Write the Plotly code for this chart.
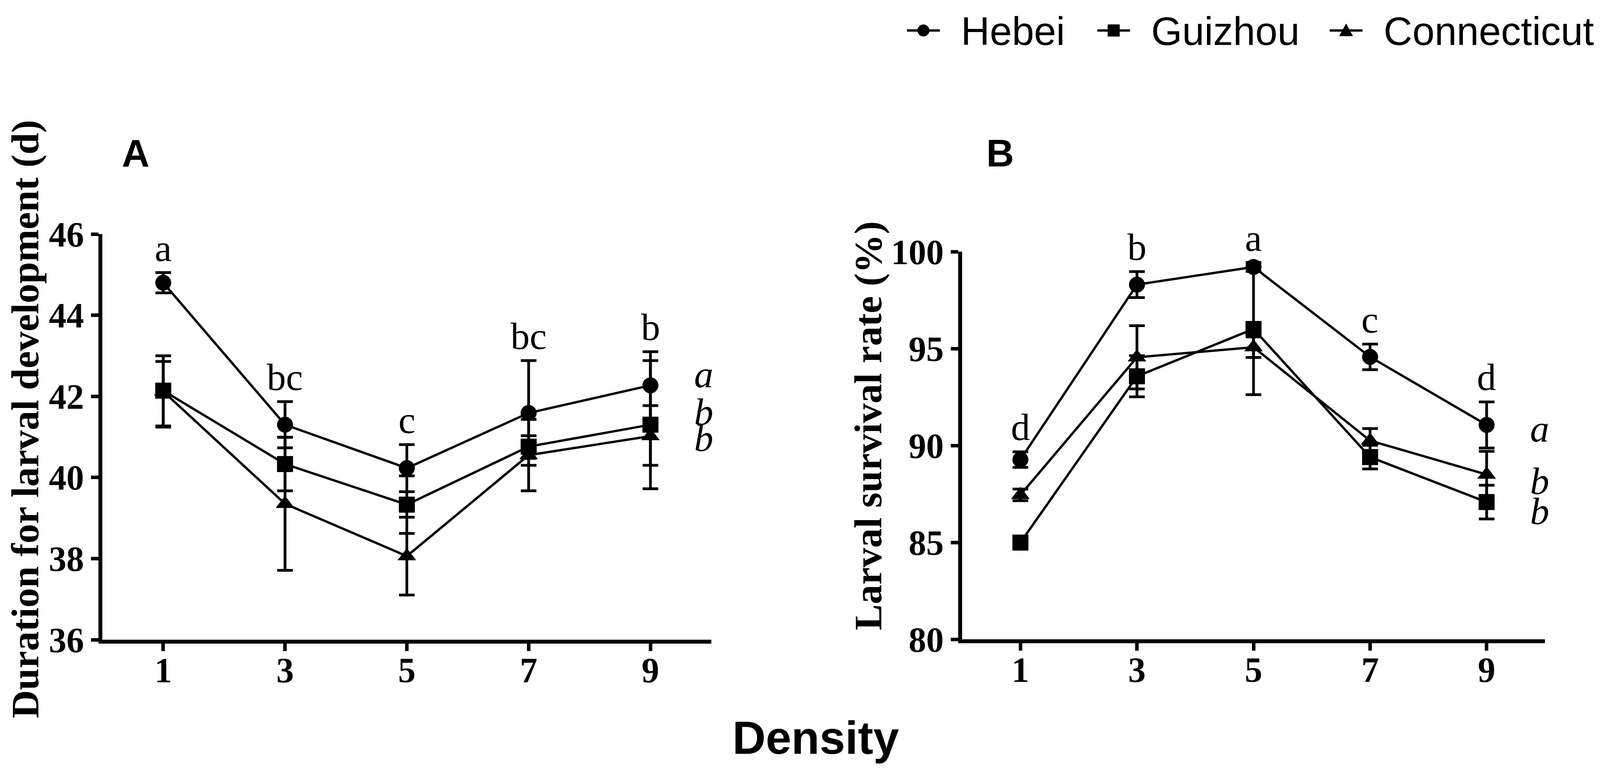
import plotly.graph_objects as go

# ---------------- data ----------------
density = [1, 3, 5, 7, 9]
populations = ["Hebei", "Guizhou", "Connecticut"]

# Panel A: duration for larval development (d)
dur_hebei = [44.80, 41.30, 40.23, 41.59, 42.27]
dur_hebei_up = [0.25, 0.57, 0.58, 1.29, 0.83]
dur_hebei_dn = [0.25, 0.57, 0.58, 1.29, 0.83]
dur_guizhou = [42.14, 40.33, 39.33, 40.76, 41.30]
dur_guizhou_up = [0.72, 0.66, 0.71, 0.27, 0.47]
dur_guizhou_dn = [0.87, 0.66, 0.71, 0.29, 1.00]
dur_conn = [42.12, 39.35, 38.06, 40.55, 41.02]
dur_conn_up = [0.88, 1.64, 0.96, 0.88, 1.86]
dur_conn_dn = [0.88, 1.64, 0.96, 0.88, 1.30]

# Panel B: larval survival rate (%)
surv_hebei = [89.27, 98.30, 99.21, 94.57, 91.06]
surv_hebei_err = [0.40, 0.67, 0.23, 0.66, 1.19]
surv_guizhou = [84.99, 93.57, 96.01, 89.40, 87.08]
surv_guizhou_err = [0.30, 1.06, 3.39, 0.61, 0.87]
surv_conn = [87.45, 94.55, 95.07, 90.25, 88.50]
surv_conn_err = [0.30, 1.63, 0.53, 0.62, 1.20]

# significance letters
density_letters_A = ["a", "bc", "c", "bc", "b"]
density_letters_B = ["d", "b", "a", "c", "d"]
pop_letters_A = ["a", "b", "b"]   # Hebei, Guizhou, Connecticut
pop_letters_B = ["a", "b", "b"]

yticks_A = [36, 38, 40, 42, 44, 46]
yticks_B = [80, 85, 90, 95, 100]

# ---------------- styling / layout ----------------
W, H = 4114, 1973
symbols = {"Hebei": "circle", "Guizhou": "square", "Connecticut": "triangle-up"}
msize = {"Hebei": 40, "Guizhou": 40, "Connecticut": 40}
SERIF = "Liberation Serif"
SANS = "Liberation Sans"

# label shifts (px) for the population letters at right
pop_shift_A = [28, 33, -5]
pop_shift_B = [-10, -23, -17]

# legend placement (pixels from left / top)
legend_line_px = [2322, 2809, 3404]
legend_line_len = 84
legend_text_gap = 52
legend_y_px = 78


def px(xp):
    return xp / W


def py(yp):
    return 1 - yp / H


fig = go.Figure()

panelA = [
    ("Hebei", dur_hebei, dur_hebei_up, dur_hebei_dn),
    ("Guizhou", dur_guizhou, dur_guizhou_up, dur_guizhou_dn),
    ("Connecticut", dur_conn, dur_conn_up, dur_conn_dn),
]
panelB = [
    ("Hebei", surv_hebei, surv_hebei_err, surv_hebei_err),
    ("Guizhou", surv_guizhou, surv_guizhou_err, surv_guizhou_err),
    ("Connecticut", surv_conn, surv_conn_err, surv_conn_err),
]

for ax, panel in (("1", panelA), ("2", panelB)):
    for name, y, up, dn in panel:
        fig.add_trace(go.Scatter(
            x=density, y=y, name=name, legendgroup=name, showlegend=False,
            mode="lines+markers",
            line=dict(color="black", width=6),
            marker=dict(symbol=symbols[name], size=msize[name], color="black",
                        line=dict(color="black", width=1)),
            error_y=dict(type="data", symmetric=False, array=up, arrayminus=dn,
                         color="black", thickness=7, width=20),
            xaxis="x" if ax == "1" else "x2",
            yaxis="y" if ax == "1" else "y2",
            cliponaxis=False,
        ))

axis_common = dict(
    showline=True, linecolor="black", linewidth=10,
    ticks="outside", ticklen=19, tickwidth=9, tickcolor="black",
    showgrid=False, zeroline=False, automargin=False,
    tickfont=dict(family=SERIF, size=90, color="black", weight="bold"),
)

fig.update_layout(
    template="none",
    width=W, height=H,
    margin=dict(l=0, r=0, t=0, b=0, pad=0, autoexpand=False),
    paper_bgcolor="white", plot_bgcolor="white",
    xaxis=dict(domain=[262 / W, 1821 / W], range=[0, 10], tickvals=density,
               ticklabelstandoff=-28, anchor="y", **axis_common),
    yaxis=dict(domain=[1 - 1637 / H, 1 - 599 / H], range=[36, 46], tickvals=yticks_A,
               anchor="x", **axis_common),
    xaxis2=dict(domain=[2463 / W, 3955 / W], range=[0, 10], tickvals=density,
                ticklabelstandoff=-28, anchor="y2", **axis_common),
    yaxis2=dict(domain=[1 - 1636 / H, 1 - 644 / H], range=[80, 100], tickvals=yticks_B,
                anchor="x2", **axis_common),
    showlegend=False,
)

annotations = []
shapes = []

# density significance letters (above Hebei error bar)
for xr, yr, letters, ys, ups in (("x", "y", density_letters_A, dur_hebei, dur_hebei_up),
                                  ("x2", "y2", density_letters_B, surv_hebei, surv_hebei_err)):
    for xv, lab, yv, e in zip(density, letters, ys, ups):
        annotations.append(dict(x=xv, y=yv + e, xref=xr, yref=yr, text=lab, showarrow=False,
                                xanchor="center", yanchor="middle", yshift=63,
                                font=dict(family=SERIF, size=98, color="black")))
# population letters at right
for xr, yr, letters, panel, shifts in (("x", "y", pop_letters_A, panelA, pop_shift_A),
                                        ("x2", "y2", pop_letters_B, panelB, pop_shift_B)):
    for lab, (name, y, up, dn), sh in zip(letters, panel, shifts):
        annotations.append(dict(x=density[-1], y=y[-1], xref=xr, yref=yr, text=lab,
                                showarrow=False, xshift=136, yshift=sh,
                                xanchor="center", yanchor="middle",
                                font=dict(family=SERIF, size=98, color="black", style="italic")))
# panel letters
for lab, xp in (("A", 347), ("B", 2561)):
    annotations.append(dict(x=px(xp), y=py(392), xref="paper", yref="paper", text=lab,
                            showarrow=False, xanchor="center", yanchor="middle",
                            font=dict(family=SANS, size=98, color="black", weight="bold")))
# axis titles
annotations.append(dict(x=px(64), y=py(1073), xref="paper", yref="paper",
                        text="Duration for larval development (d)", textangle=-90, showarrow=False,
                        xanchor="center", yanchor="middle",
                        font=dict(family=SERIF, size=100, color="black", weight="bold")))
annotations.append(dict(x=px(2222), y=py(1090), xref="paper", yref="paper",
                        text="Larval survival rate (%)", textangle=-90, showarrow=False,
                        xanchor="center", yanchor="middle",
                        font=dict(family=SERIF, size=100, color="black", weight="bold")))
annotations.append(dict(x=px(2088), y=py(1888), xref="paper", yref="paper",
                        text="Density", showarrow=False, xanchor="center", yanchor="middle",
                        font=dict(family=SANS, size=118, color="black", weight="bold")))

# legend (line + marker + label) drawn at the top right
r = 15
for name, x0 in zip(populations, legend_line_px):
    cx = x0 + legend_line_len / 2
    cy = legend_y_px
    shapes.append(dict(type="line", xref="paper", yref="paper",
                       x0=px(x0), x1=px(x0 + legend_line_len), y0=py(cy), y1=py(cy),
                       line=dict(color="black", width=6)))
    sym = symbols[name]
    if sym == "circle":
        shapes.append(dict(type="circle", xref="paper", yref="paper",
                           x0=px(cx - r), x1=px(cx + r), y0=py(cy + r), y1=py(cy - r),
                           fillcolor="black", line=dict(color="black", width=1)))
    elif sym == "square":
        shapes.append(dict(type="rect", xref="paper", yref="paper",
                           x0=px(cx - r), x1=px(cx + r), y0=py(cy + r), y1=py(cy - r),
                           fillcolor="black", line=dict(color="black", width=1)))
    else:
        path = "M {:.5f},{:.5f} L {:.5f},{:.5f} L {:.5f},{:.5f} Z".format(
            px(cx - 17), py(cy + 14), px(cx + 17), py(cy + 14), px(cx), py(cy - 17))
        shapes.append(dict(type="path", xref="paper", yref="paper", path=path,
                           fillcolor="black", line=dict(color="black", width=1)))
    annotations.append(dict(x=px(x0 + legend_line_len + legend_text_gap), y=py(cy + 2),
                            xref="paper", yref="paper", text=name, showarrow=False,
                            xanchor="left", yanchor="middle",
                            font=dict(family=SANS, size=102, color="black")))

fig.update_layout(annotations=annotations, shapes=shapes)

fig.write_html("out.html", config={"displayModeBar": False},
               post_script="document.body.style.margin='0';document.body.style.overflow='hidden';")
